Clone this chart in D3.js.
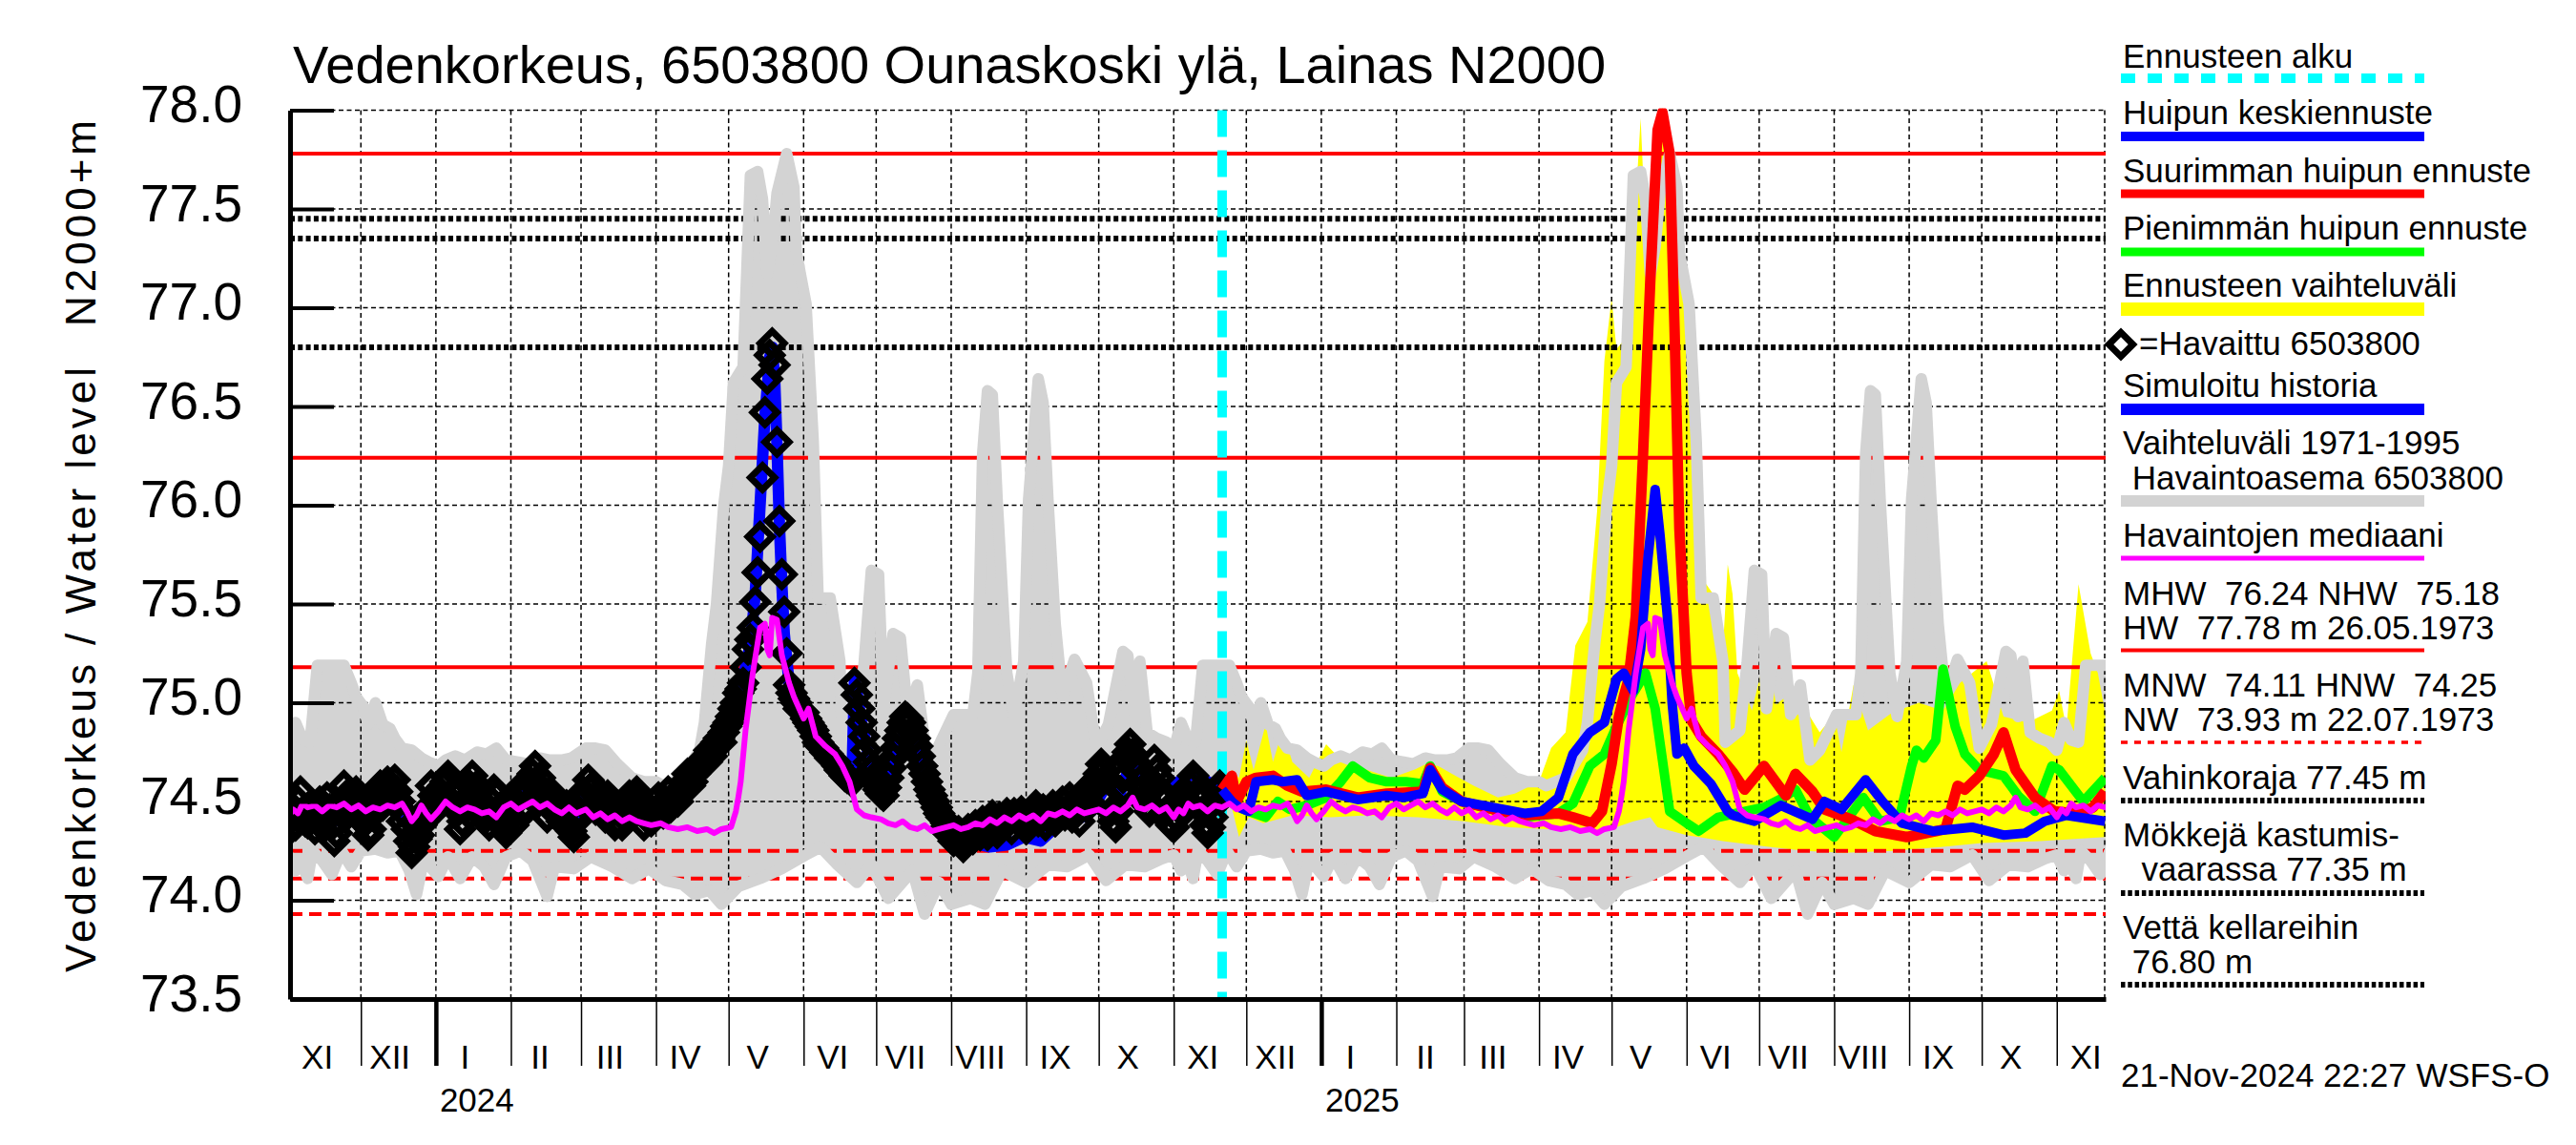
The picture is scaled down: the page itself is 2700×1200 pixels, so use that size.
<!DOCTYPE html>
<html>
<head>
<meta charset="utf-8">
<script src="https://cdn.jsdelivr.net/npm/d3@7"></script>
<style>
  body { margin: 0; background: #fff; }
  svg { display: block; font-family: "Liberation Sans", Arial, Helvetica, sans-serif; }
  text { white-space: pre; }
</style>
</head>
<body>
<svg id="chart" width="2700" height="1200"></svg>
<script>
// ---- data ----

// Vaihteluväli 1971-1995 (day of year, max / min), repeated for every year on the chart
const climMax = [["11-01",74.76],["11-04",74.90],["11-07",74.81],["11-10",74.80],["11-13",75.19],["11-18",75.19],["11-24",75.19],["11-27",75.10],["11-29",75.03],["12-02",74.98],["12-04",74.89],["12-07",75.00],["12-10",74.89],["12-13",74.87],["12-15",74.82],["12-18",74.77],["12-22",74.76],["12-26",74.72],["12-29",74.70],["01-02",74.68],["01-05",74.71],["01-09",74.73],["01-13",74.71],["01-18",74.75],["01-22",74.74],["01-26",74.77],["01-30",74.71],["02-04",74.70],["02-08",74.69],["02-13",74.72],["02-17",74.71],["02-22",74.71],["02-26",74.72],["03-03",74.77],["03-07",74.77],["03-11",74.76],["03-16",74.69],["03-22",74.62],["03-27",74.60],["04-01",74.60],["04-04",74.58],["04-08",74.60],["04-12",74.62],["04-16",74.70],["04-19",74.76],["04-21",74.90],["04-24",75.30],["04-26",75.50],["04-29",76.00],["05-01",76.20],["05-03",76.62],["05-07",76.70],["05-10",77.67],["05-13",77.69],["05-15",77.55],["05-17",77.17],["05-19",77.31],["05-21",77.58],["05-25",77.78],["05-28",77.61],["05-29",77.28],["06-02",77.02],["06-05",76.32],["06-07",75.53],["06-12",75.53],["06-16",75.21],["06-17",74.80],["06-23",74.86],["06-26",75.20],["06-29",75.67],["07-02",75.65],["07-04",74.97],["07-08",75.35],["07-11",75.33],["07-14",74.94],["07-18",75.09],["07-22",74.71],["07-26",74.76],["08-02",74.94],["08-10",74.94],["08-12",75.15],["08-14",76.26],["08-16",76.58],["08-18",76.56],["08-20",76.03],["08-24",75.15],["08-27",74.93],["08-31",75.21],["09-02",76.03],["09-06",76.64],["09-08",76.52],["09-10",76.03],["09-13",75.40],["09-16",75.03],["09-21",75.22],["09-26",75.10],["09-30",74.77],["10-05",74.89],["10-11",75.26],["10-13",75.24],["10-16",74.93],["10-18",75.21],["10-21",74.85],["10-25",74.82],["10-29",74.80]];
const climMin = [["11-01",74.23],["11-04",74.15],["11-06",74.21],["11-09",74.11],["11-11",74.25],["11-15",74.20],["11-19",74.13],["11-23",74.25],["11-27",74.17],["12-01",74.25],["12-07",74.26],["12-12",74.24],["12-17",74.25],["12-21",74.15],["12-24",74.03],["12-27",74.21],["01-02",74.12],["01-06",74.22],["01-11",74.11],["01-16",74.22],["01-21",74.17],["01-25",74.08],["01-30",74.22],["02-05",74.25],["02-10",74.20],["02-16",74.02],["02-19",74.17],["02-27",74.16],["03-05",74.22],["03-14",74.17],["03-22",74.11],["03-29",74.16],["04-05",74.10],["04-12",74.08],["04-17",74.03],["04-23",74.05],["04-28",73.98],["05-05",74.07],["05-14",74.11],["05-23",74.16],["06-02",74.23],["06-08",74.27],["06-15",74.18],["06-23",74.09],["06-29",74.18],["07-06",74.01],["07-16",74.15],["07-21",73.93],["07-27",74.09],["08-01",73.98],["08-09",74.01],["08-15",73.98],["08-22",74.15],["09-01",74.09],["09-10",74.18],["09-18",74.17],["09-27",74.23],["10-04",74.10],["10-12",74.18],["10-20",74.17],["10-27",74.21]];

// Havaintojen mediaani (day of year)
const medianClim = [["11-01",74.42],["11-03",74.46],["11-05",74.44],["11-07",74.49],["11-09",74.47],["11-12",74.48],["11-15",74.45],["11-18",74.48],["11-21",74.47],["11-24",74.49],["11-27",74.46],["11-30",74.48],["12-03",74.45],["12-06",74.47],["12-09",74.46],["12-12",74.48],["12-15",74.47],["12-18",74.49],["12-20",74.45],["12-22",74.40],["12-24",74.43],["12-26",74.48],["12-28",74.44],["12-30",74.41],["01-02",74.45],["01-05",74.50],["01-08",74.47],["01-11",74.45],["01-14",74.47],["01-17",74.46],["01-20",74.44],["01-23",74.45],["01-26",74.42],["01-29",74.47],["02-01",74.49],["02-04",74.46],["02-07",74.48],["02-10",74.50],["02-13",74.47],["02-16",74.49],["02-19",74.46],["02-22",74.44],["02-25",74.47],["02-28",74.44],["03-03",74.46],["03-06",74.42],["03-09",74.44],["03-12",74.41],["03-15",74.43],["03-18",74.40],["03-21",74.42],["03-24",74.40],["03-27",74.39],["03-30",74.38],["04-03",74.39],["04-06",74.37],["04-10",74.36],["04-14",74.37],["04-18",74.35],["04-22",74.36],["04-25",74.34],["04-28",74.36],["05-02",74.37],["05-04",74.45],["05-05",74.52],["05-06",74.60],["05-08",74.86],["05-11",75.15],["05-14",75.38],["05-16",75.40],["05-17",75.27],["05-18",75.24],["05-19",75.43],["05-21",75.42],["05-23",75.24],["05-26",75.10],["05-28",75.03],["06-01",74.92],["06-03",74.97],["06-06",74.83],["06-10",74.78],["06-14",74.74],["06-17",74.68],["06-20",74.60],["06-23",74.46],["06-26",74.43],["06-29",74.42],["07-03",74.41],["07-06",74.39],["07-09",74.38],["07-12",74.40],["07-15",74.37],["07-18",74.36],["07-21",74.38],["07-24",74.35],["07-27",74.36],["07-30",74.37],["08-02",74.38],["08-05",74.36],["08-08",74.37],["08-11",74.39],["08-14",74.38],["08-17",74.41],["08-20",74.39],["08-23",74.42],["08-26",74.40],["08-29",74.43],["09-01",74.41],["09-04",74.43],["09-07",74.40],["09-10",74.44],["09-13",74.43],["09-16",74.45],["09-19",74.43],["09-22",74.46],["09-25",74.44],["09-28",74.45],["10-01",74.46],["10-04",74.44],["10-07",74.47],["10-10",74.45],["10-13",74.48],["10-15",74.52],["10-17",74.47],["10-20",74.46],["10-23",74.48],["10-26",74.45],["10-29",74.47]];

// Havaittu 6503800
const observed = [["2023-11-01",74.35],["2023-11-03",74.42],["2023-11-05",74.50],["2023-11-07",74.45],["2023-11-09",74.39],["2023-11-11",74.44],["2023-11-13",74.40],["2023-11-15",74.47],["2023-11-17",74.52],["2023-11-19",74.38],["2023-11-21",74.34],["2023-11-23",74.45],["2023-11-25",74.53],["2023-11-27",74.48],["2023-11-29",74.55],["2023-12-01",74.46],["2023-12-03",74.40],["2023-12-05",74.36],["2023-12-07",74.50],["2023-12-09",74.58],["2023-12-11",74.52],["2023-12-13",74.56],["2023-12-15",74.61],["2023-12-17",74.50],["2023-12-19",74.44],["2023-12-21",74.30],["2023-12-23",74.27],["2023-12-25",74.33],["2023-12-27",74.40],["2023-12-29",74.47],["2023-12-31",74.53],["2024-01-02",74.50],["2024-01-04",74.58],["2024-01-06",74.63],["2024-01-08",74.55],["2024-01-10",74.45],["2024-01-12",74.40],["2024-01-14",74.52],["2024-01-16",74.63],["2024-01-18",74.58],["2024-01-20",74.48],["2024-01-22",74.42],["2024-01-24",74.50],["2024-01-26",74.53],["2024-01-28",74.40],["2024-01-30",74.34],["2024-02-01",74.42],["2024-02-03",74.50],["2024-02-05",74.53],["2024-02-07",74.48],["2024-02-09",74.60],["2024-02-11",74.68],["2024-02-13",74.62],["2024-02-15",74.52],["2024-02-17",74.47],["2024-02-19",74.53],["2024-02-21",74.50],["2024-02-23",74.44],["2024-02-25",74.38],["2024-02-27",74.32],["2024-02-29",74.45],["2024-03-02",74.55],["2024-03-04",74.61],["2024-03-06",74.58],["2024-03-08",74.50],["2024-03-10",74.47],["2024-03-12",74.53],["2024-03-14",74.45],["2024-03-16",74.40],["2024-03-18",74.38],["2024-03-20",74.45],["2024-03-22",74.50],["2024-03-24",74.55],["2024-03-26",74.48],["2024-03-28",74.42],["2024-03-30",74.40],["2024-04-01",74.45],["2024-04-03",74.48],["2024-04-05",74.50],["2024-04-07",74.47],["2024-04-09",74.53],["2024-04-11",74.56],["2024-04-13",74.60],["2024-04-15",74.58],["2024-04-17",74.64],["2024-04-19",74.68],["2024-04-21",74.72],["2024-04-23",74.76],["2024-04-25",74.78],["2024-04-27",74.82],["2024-04-29",74.85],["2024-05-01",74.90],["2024-05-03",74.97],["2024-05-05",75.05],["2024-05-07",75.10],["2024-05-08",75.18],["2024-05-09",75.27],["2024-05-10",75.32],["2024-05-11",75.38],["2024-05-12",75.51],["2024-05-13",75.66],["2024-05-14",75.84],["2024-05-15",76.14],["2024-05-16",76.47],["2024-05-17",76.64],["2024-05-18",76.76],["2024-05-19",76.82],["2024-05-20",76.71],["2024-05-21",76.32],["2024-05-22",75.92],["2024-05-23",75.65],["2024-05-24",75.46],["2024-05-25",75.25],["2024-05-26",75.09],["2024-05-28",75.02],["2024-05-30",74.97],["2024-06-01",74.95],["2024-06-03",74.90],["2024-06-05",74.86],["2024-06-07",74.80],["2024-06-09",74.77],["2024-06-11",74.74],["2024-06-13",74.71],["2024-06-15",74.68],["2024-06-17",74.65],["2024-06-19",74.62],["2024-06-21",74.60],["2024-06-22",75.10],["2024-06-23",75.04],["2024-06-24",74.97],["2024-06-25",74.90],["2024-06-26",74.83],["2024-06-27",74.76],["2024-06-28",74.70],["2024-06-30",74.62],["2024-07-02",74.56],["2024-07-04",74.53],["2024-07-06",74.62],["2024-07-08",74.72],["2024-07-10",74.82],["2024-07-12",74.90],["2024-07-14",74.92],["2024-07-16",74.86],["2024-07-18",74.78],["2024-07-20",74.68],["2024-07-22",74.60],["2024-07-24",74.53],["2024-07-26",74.47],["2024-07-28",74.42],["2024-07-30",74.39],["2024-08-01",74.36],["2024-08-03",74.33],["2024-08-05",74.30],["2024-08-07",74.32],["2024-08-09",74.35],["2024-08-11",74.38],["2024-08-13",74.33],["2024-08-15",74.36],["2024-08-17",74.40],["2024-08-19",74.37],["2024-08-21",74.42],["2024-08-23",74.38],["2024-08-25",74.40],["2024-08-27",74.44],["2024-08-29",74.40],["2024-08-31",74.38],["2024-09-02",74.43],["2024-09-04",74.45],["2024-09-06",74.40],["2024-09-08",74.46],["2024-09-10",74.42],["2024-09-12",74.48],["2024-09-14",74.44],["2024-09-16",74.50],["2024-09-18",74.46],["2024-09-20",74.42],["2024-09-22",74.48],["2024-09-24",74.52],["2024-09-26",74.47],["2024-09-28",74.55],["2024-09-30",74.60],["2024-10-02",74.69],["2024-10-04",74.62],["2024-10-06",74.45],["2024-10-08",74.37],["2024-10-10",74.55],["2024-10-12",74.72],["2024-10-14",74.79],["2024-10-16",74.70],["2024-10-18",74.60],["2024-10-20",74.52],["2024-10-22",74.45],["2024-10-24",74.71],["2024-10-26",74.62],["2024-10-28",74.50],["2024-10-30",74.40],["2024-11-01",74.37],["2024-11-03",74.48],["2024-11-05",74.55],["2024-11-07",74.50],["2024-11-09",74.63],["2024-11-11",74.55],["2024-11-13",74.45],["2024-11-15",74.34],["2024-11-17",74.42],["2024-11-19",74.55],["2024-11-21",74.52],
  ["2023-11-02",74.47],["2023-11-04",74.38],["2023-11-06",74.55],["2023-11-08",74.40],["2023-11-10",74.48],["2023-11-12",74.36],["2023-11-14",74.50],["2023-11-16",74.42],["2023-11-18",74.46],["2023-11-20",74.30],["2023-11-22",74.40],["2023-11-24",74.58],["2023-11-26",74.44],["2023-11-28",74.52],["2023-11-30",74.42],["2023-12-02",74.50],["2023-12-04",74.33],["2023-12-06",74.44],["2023-12-08",74.55],["2023-12-10",74.48],["2023-12-12",74.60],["2023-12-14",74.52],["2023-12-16",74.55],["2023-12-18",74.40],["2023-12-20",74.36],["2023-12-22",74.24],["2023-12-24",74.31],["2023-12-26",74.38],["2023-12-28",74.44],["2023-12-30",74.58],["2024-01-01",74.46],["2024-01-03",74.54],["2024-01-05",74.60],["2024-01-07",74.50],["2024-01-09",74.48],["2024-01-11",74.36],["2024-01-13",74.46],["2024-01-15",74.58],["2024-01-17",74.52],["2024-01-19",74.55],["2024-01-21",74.44],["2024-01-23",74.38],["2024-01-25",74.56],["2024-01-27",74.46],["2024-01-29",74.37],["2024-01-31",74.46],["2024-02-02",74.38],["2024-02-04",74.56],["2024-02-06",74.44],["2024-02-08",74.55],["2024-02-10",74.64],["2024-02-12",74.58],["2024-02-14",74.56],["2024-02-16",74.42],["2024-02-18",74.50],["2024-02-20",74.46],["2024-02-22",74.40],["2024-02-24",74.48],["2024-02-26",74.35],["2024-02-28",74.40],["2024-03-01",74.50],["2024-03-03",74.52],["2024-03-05",74.56],["2024-03-07",74.46],["2024-03-09",74.52],["2024-03-11",74.42],["2024-03-13",74.50],["2024-03-15",74.38],["2024-03-17",74.44],["2024-03-19",74.42],["2024-03-21",74.53],["2024-03-23",74.47],["2024-03-25",74.52],["2024-03-27",74.38],["2024-03-29",74.46],["2024-03-31",74.42],["2024-04-02",74.52],["2024-04-04",74.44],["2024-04-06",74.55],["2024-04-08",74.50],["2024-04-10",74.50],["2024-04-12",74.55],["2024-04-14",74.64],["2024-04-16",74.60],["2024-04-18",74.66],["2024-04-20",74.70],["2024-04-22",74.70],["2024-04-24",74.73],["2024-04-26",74.80],["2024-04-28",74.80],["2024-04-30",74.88],["2024-05-02",74.93],["2024-05-04",75.00],["2024-05-06",75.07],["2024-05-27",75.05],["2024-05-29",75.00],["2024-05-31",74.96],["2024-06-02",74.92],["2024-06-04",74.88],["2024-06-06",74.83],["2024-06-08",74.78],["2024-06-10",74.75],["2024-06-12",74.72],["2024-06-14",74.70],["2024-06-16",74.66],["2024-06-18",74.63],["2024-06-29",74.66],["2024-07-01",74.59],["2024-07-03",74.54],["2024-07-05",74.57],["2024-07-07",74.67],["2024-07-09",74.77],["2024-07-11",74.86],["2024-07-13",74.93],["2024-07-15",74.90],["2024-07-17",74.82],["2024-07-19",74.73],["2024-07-21",74.64],["2024-07-23",74.56],["2024-07-25",74.50],["2024-07-27",74.44],["2024-07-29",74.36],["2024-07-31",74.34],["2024-08-02",74.30],["2024-08-04",74.35],["2024-08-06",74.27],["2024-08-08",74.36],["2024-08-10",74.31],["2024-08-12",74.34],["2024-08-14",74.40],["2024-08-16",74.33],["2024-08-18",74.43],["2024-08-20",74.34],["2024-08-22",74.38],["2024-08-24",74.44],["2024-08-26",74.36],["2024-08-28",74.42],["2024-08-30",74.45],["2024-09-01",74.36],["2024-09-03",74.40],["2024-09-05",74.48],["2024-09-07",74.43],["2024-09-09",74.38],["2024-09-11",74.45],["2024-09-13",74.40],["2024-09-15",74.46],["2024-09-17",74.43],["2024-09-19",74.52],["2024-09-21",74.45],["2024-09-23",74.40],["2024-09-25",74.55],["2024-09-27",74.50],["2024-09-29",74.57],["2024-10-01",74.64],["2024-10-03",74.66],["2024-10-05",74.52],["2024-10-07",74.40],["2024-10-09",74.45],["2024-10-11",74.62],["2024-10-13",74.75],["2024-10-15",74.74],["2024-10-17",74.65],["2024-10-19",74.56],["2024-10-21",74.48],["2024-10-23",74.60],["2024-10-25",74.66],["2024-10-27",74.55],["2024-10-29",74.45],["2024-10-31",74.38],["2024-11-02",74.42],["2024-11-04",74.52],["2024-11-06",74.46],["2024-11-08",74.58],["2024-11-10",74.60],["2024-11-12",74.50],["2024-11-14",74.38],["2024-11-16",74.37],["2024-11-18",74.50],["2024-11-20",74.58]];

// Simuloitu historia
const simulated = [["2023-11-01",74.40],["2023-11-05",74.47],["2023-11-10",74.43],["2023-11-15",74.46],["2023-11-20",74.40],["2023-11-25",74.48],["2023-11-30",74.50],["2023-12-05",74.42],["2023-12-10",74.52],["2023-12-15",74.55],["2023-12-20",74.40],["2023-12-25",74.35],["2023-12-31",74.48],["2024-01-05",74.56],["2024-01-10",74.47],["2024-01-15",74.55],["2024-01-20",74.50],["2024-01-25",74.48],["2024-01-30",74.40],["2024-02-05",74.50],["2024-02-10",74.60],["2024-02-15",74.55],["2024-02-20",74.50],["2024-02-27",74.38],["2024-03-03",74.55],["2024-03-10",74.50],["2024-03-17",74.42],["2024-03-24",74.50],["2024-03-31",74.43],["2024-04-07",74.48],["2024-04-14",74.57],["2024-04-21",74.70],["2024-04-28",74.82],["2024-05-03",74.97],["2024-05-07",75.12],["2024-05-10",75.30],["2024-05-12",75.55],["2024-05-14",76.00],["2024-05-16",76.45],["2024-05-18",76.75],["2024-05-19",76.80],["2024-05-20",76.65],["2024-05-21",76.30],["2024-05-22",75.90],["2024-05-23",75.60],["2024-05-24",75.35],["2024-05-26",75.10],["2024-05-30",74.97],["2024-06-05",74.86],["2024-06-12",74.73],["2024-06-19",74.62],["2024-06-21",74.62],["2024-06-22",75.12],["2024-06-23",75.06],["2024-06-25",74.90],["2024-06-28",74.72],["2024-07-01",74.60],["2024-07-05",74.55],["2024-07-10",74.78],["2024-07-14",74.88],["2024-07-18",74.75],["2024-07-22",74.58],["2024-07-28",74.42],["2024-08-03",74.33],["2024-08-10",74.29],["2024-08-17",74.27],["2024-08-24",74.28],["2024-08-31",74.32],["2024-09-07",74.30],["2024-09-14",74.38],["2024-09-21",74.40],["2024-09-28",74.45],["2024-10-04",74.58],["2024-10-10",74.55],["2024-10-15",74.72],["2024-10-22",74.55],["2024-10-28",74.58],["2024-11-03",74.60],["2024-11-09",74.64],["2024-11-15",74.60],["2024-11-21",74.56]];

// Ennusteen vaihteluväli (upper / lower)
const forecastMax = [["2024-11-21",74.56],["2024-11-25",74.66],["2024-11-28",74.62],["2024-12-01",74.81],["2024-12-04",74.66],["2024-12-09",74.89],["2024-12-12",74.70],["2024-12-16",74.86],["2024-12-20",74.70],["2024-12-27",74.62],["2025-01-03",74.79],["2025-01-10",74.70],["2025-01-20",74.66],["2025-01-30",74.62],["2025-02-08",74.66],["2025-02-14",74.71],["2025-02-24",74.64],["2025-03-05",74.58],["2025-03-15",74.52],["2025-03-22",74.54],["2025-04-01",74.60],["2025-04-06",74.77],["2025-04-12",74.85],["2025-04-16",75.29],["2025-04-21",75.41],["2025-04-25",75.97],["2025-04-28",76.73],["2025-05-01",77.05],["2025-05-03",76.79],["2025-05-07",76.85],["2025-05-10",77.34],["2025-05-13",77.96],["2025-05-15",77.40],["2025-05-19",77.64],["2025-05-22",78.02],["2025-05-25",77.85],["2025-05-29",77.49],["2025-06-01",76.96],["2025-06-04",76.08],["2025-06-08",75.62],["2025-06-12",75.55],["2025-06-16",75.27],["2025-06-18",75.70],["2025-06-20",75.55],["2025-06-22",75.15],["2025-06-28",74.96],["2025-07-04",75.27],["2025-07-08",74.99],["2025-07-12",75.03],["2025-07-16",74.93],["2025-07-20",74.97],["2025-07-26",74.85],["2025-08-01",74.94],["2025-08-04",74.75],["2025-08-09",75.09],["2025-08-15",74.86],["2025-08-25",74.95],["2025-09-05",75.00],["2025-09-15",74.96],["2025-09-22",75.10],["2025-10-03",75.21],["2025-10-10",74.93],["2025-10-20",74.90],["2025-10-30",74.96],["2025-11-02",75.06],["2025-11-05",74.87],["2025-11-10",75.60],["2025-11-15",75.25],["2025-11-18",75.15],["2025-11-21",74.95]];
const forecastMin = [["2024-11-21",74.55],["2024-11-25",74.47],["2024-11-28",74.32],["2024-12-02",74.42],["2024-12-08",74.39],["2024-12-20",74.43],["2025-01-05",74.42],["2025-01-20",74.43],["2025-02-10",74.42],["2025-03-01",74.40],["2025-03-20",74.37],["2025-04-05",74.36],["2025-04-20",74.36],["2025-04-26",74.34],["2025-05-10",74.40],["2025-05-17",74.42],["2025-05-20",74.37],["2025-06-01",74.33],["2025-06-16",74.30],["2025-07-05",74.27],["2025-07-20",74.25],["2025-08-05",74.24],["2025-08-25",74.25],["2025-09-15",74.27],["2025-10-01",74.29],["2025-10-25",74.30],["2025-11-21",74.32]];

// Huipun keskiennuste / Suurimman / Pienimmän huipun ennuste
const forecastMean = [["2024-11-21",74.56],["2024-11-25",74.50],["2024-11-28",74.47],["2024-12-02",74.45],["2024-12-05",74.60],["2024-12-12",74.61],["2024-12-16",74.60],["2024-12-22",74.61],["2024-12-26",74.53],["2025-01-03",74.55],["2025-01-16",74.51],["2025-01-28",74.53],["2025-02-04",74.52],["2025-02-12",74.54],["2025-02-15",74.66],["2025-02-20",74.56],["2025-02-28",74.50],["2025-03-13",74.47],["2025-03-26",74.44],["2025-04-02",74.45],["2025-04-09",74.52],["2025-04-15",74.74],["2025-04-22",74.85],["2025-04-28",74.90],["2025-05-03",75.12],["2025-05-06",75.15],["2025-05-10",75.06],["2025-05-13",75.27],["2025-05-16",75.73],["2025-05-19",76.08],["2025-05-21",75.85],["2025-05-24",75.44],["2025-05-26",75.00],["2025-05-28",74.74],["2025-05-31",74.77],["2025-06-04",74.68],["2025-06-11",74.59],["2025-06-18",74.45],["2025-06-20",74.43],["2025-06-29",74.40],["2025-07-10",74.48],["2025-07-23",74.41],["2025-07-28",74.50],["2025-08-04",74.46],["2025-08-14",74.61],["2025-08-21",74.50],["2025-08-29",74.39],["2025-09-11",74.35],["2025-09-27",74.37],["2025-10-10",74.33],["2025-10-19",74.34],["2025-10-27",74.40],["2025-11-05",74.43],["2025-11-21",74.40]];
const forecastHigh = [["2024-11-21",74.56],["2024-11-25",74.63],["2024-11-27",74.50],["2024-12-01",74.60],["2024-12-05",74.62],["2024-12-12",74.63],["2024-12-18",74.58],["2024-12-24",74.55],["2025-01-03",74.56],["2025-01-16",74.52],["2025-01-28",74.54],["2025-02-12",74.55],["2025-02-15",74.67],["2025-02-20",74.57],["2025-02-28",74.50],["2025-03-13",74.46],["2025-03-26",74.43],["2025-04-09",74.44],["2025-04-15",74.42],["2025-04-23",74.39],["2025-04-27",74.45],["2025-05-01",74.69],["2025-05-04",74.93],["2025-05-06",75.03],["2025-05-08",75.12],["2025-05-11",75.44],["2025-05-14",76.26],["2025-05-17",77.14],["2025-05-20",77.90],["2025-05-22",77.99],["2025-05-25",77.78],["2025-05-27",76.90],["2025-05-29",75.88],["2025-06-01",75.15],["2025-06-03",74.91],["2025-06-07",74.83],["2025-06-14",74.74],["2025-06-20",74.65],["2025-06-25",74.56],["2025-07-03",74.68],["2025-07-12",74.53],["2025-07-16",74.64],["2025-07-23",74.55],["2025-07-28",74.46],["2025-08-08",74.41],["2025-08-18",74.35],["2025-08-31",74.32],["2025-09-16",74.36],["2025-09-21",74.58],["2025-09-24",74.56],["2025-09-30",74.63],["2025-10-06",74.74],["2025-10-10",74.85],["2025-10-15",74.66],["2025-10-23",74.52],["2025-10-31",74.45],["2025-11-09",74.44],["2025-11-16",74.47],["2025-11-21",74.55]];
const forecastLow = [["2024-11-21",74.56],["2024-11-25",74.52],["2024-11-28",74.47],["2024-12-02",74.45],["2024-12-09",74.42],["2024-12-14",74.50],["2024-12-19",74.46],["2024-12-26",74.48],["2025-01-03",74.52],["2025-01-09",74.60],["2025-01-14",74.68],["2025-01-21",74.62],["2025-01-28",74.60],["2025-02-05",74.60],["2025-02-12",74.59],["2025-02-15",74.68],["2025-02-20",74.55],["2025-02-28",74.50],["2025-03-13",74.46],["2025-03-26",74.42],["2025-04-09",74.44],["2025-04-15",74.49],["2025-04-22",74.68],["2025-04-28",74.74],["2025-05-03",74.88],["2025-05-09",75.03],["2025-05-15",75.15],["2025-05-19",74.97],["2025-05-22",74.71],["2025-05-25",74.45],["2025-06-01",74.39],["2025-06-06",74.35],["2025-06-14",74.42],["2025-06-25",74.45],["2025-07-03",74.47],["2025-07-11",74.52],["2025-07-16",74.56],["2025-07-22",74.42],["2025-08-01",74.32],["2025-08-13",74.52],["2025-08-20",74.40],["2025-08-28",74.42],["2025-09-02",74.68],["2025-09-04",74.76],["2025-09-07",74.72],["2025-09-12",74.81],["2025-09-15",75.17],["2025-09-20",74.88],["2025-09-24",74.74],["2025-09-30",74.66],["2025-10-10",74.63],["2025-10-16",74.53],["2025-10-23",74.45],["2025-10-30",74.68],["2025-11-02",74.66],["2025-11-12",74.50],["2025-11-21",74.62]];

// reference levels
const levelsSolid = [77.78, 76.24, 75.18];   // HW, MHW, NHW
const levelsDashed = [74.25, 74.11, 73.93];  // HNW, MNW, NW
const levelsDotted = [77.45, 77.35, 76.80];  // Vahinkoraja, Mökkejä, Vettä kellareihin
const forecastStart = "2024-11-21";

const yTicks = [73.5, 74.0, 74.5, 75.0, 75.5, 76.0, 76.5, 77.0, 77.5, 78.0];
const romanMonths = ['I', 'II', 'III', 'IV', 'V', 'VI', 'VII', 'VIII', 'IX', 'X', 'XI', 'XII'];
const yearLabels = [2024, 2025];

// ---- setup ----
const width = 2700, height = 1200;
const plot = { left: 304, right: 2207, top: 115.5, bottom: 1047 };

const x = d3.scaleTime()
  .domain([new Date(2023, 10, 1, 17), new Date(2025, 10, 21, 5)])
  .range([plot.left, plot.right]);
const y = d3.scaleLinear().domain([73.5, 78]).range([plot.bottom, plot.top]);

const parse = d3.timeParse('%Y-%m-%d');
const toPts = (arr) => arr.map(([d, v]) => [parse(d), v]);

// day-of-year table -> dated points for every season on the chart
function repeatYears(arr) {
  const out = [];
  [2023, 2024, 2025].forEach((base) => {
    arr.forEach(([md, v]) => {
      const [m, d] = md.split('-').map(Number);
      const yr = m >= 11 ? base : base + 1;
      out.push([new Date(yr, m - 1, d), v]);
    });
  });
  const lo = d3.timeDay.offset(x.domain()[0], -20);
  const hi = d3.timeDay.offset(x.domain()[1], 20);
  return out.filter((p) => p[0] >= lo && p[0] <= hi).sort((a, b) => a[0] - b[0]);
}

const line = d3.line().x((d) => x(d[0])).y((d) => y(d[1]));
const bandPath = (upper, lower) => line(upper.concat(lower.slice().reverse())) + 'Z';

const svg = d3.select('#chart');
svg.append('rect').attr('width', width).attr('height', height).attr('fill', '#fff');

svg.append('defs').append('clipPath').attr('id', 'clip')
  .append('rect')
  .attr('x', plot.left).attr('y', plot.top - 2)
  .attr('width', plot.right - plot.left).attr('height', plot.bottom - plot.top + 2);

const g = svg.append('g').attr('clip-path', 'url(#clip)');

const grayMax = repeatYears(climMax);
const grayMin = repeatYears(climMin);

// gray historical range
g.append('path').attr('d', bandPath(grayMax, grayMin)).attr('fill', '#d3d3d3');

// yellow forecast range
g.append('path').attr('d', bandPath(toPts(forecastMax), toPts(forecastMin))).attr('fill', '#ffff00');

// grid
g.selectAll('.hgrid').data(yTicks).enter().append('line')
  .attr('x1', plot.left).attr('x2', plot.right)
  .attr('y1', (d) => y(d)).attr('y2', (d) => y(d))
  .attr('stroke', '#000').attr('stroke-width', 1.5).attr('stroke-dasharray', '5,3.5');

const monthStarts = d3.timeMonth.range(new Date(2023, 11, 1), new Date(2025, 10, 2));
g.selectAll('.vgrid').data(monthStarts.concat([x.domain()[1]])).enter().append('line')
  .attr('x1', (d) => Math.min(x(d), plot.right - 1)).attr('x2', (d) => Math.min(x(d), plot.right - 1))
  .attr('y1', plot.top).attr('y2', plot.bottom)
  .attr('stroke', '#000').attr('stroke-width', 1.5).attr('stroke-dasharray', '5,3.5');

// reference level lines
g.selectAll('.lsolid').data(levelsSolid).enter().append('line')
  .attr('x1', plot.left).attr('x2', plot.right)
  .attr('y1', (d) => y(d)).attr('y2', (d) => y(d))
  .attr('stroke', '#ff0000').attr('stroke-width', 4);
g.selectAll('.ldash').data(levelsDashed).enter().append('line')
  .attr('x1', plot.left).attr('x2', plot.right)
  .attr('y1', (d) => y(d)).attr('y2', (d) => y(d))
  .attr('stroke', '#ff0000').attr('stroke-width', 4).attr('stroke-dasharray', '13,7');
g.selectAll('.ldot').data(levelsDotted).enter().append('line')
  .attr('x1', plot.left).attr('x2', plot.right)
  .attr('y1', (d) => y(d)).attr('y2', (d) => y(d))
  .attr('stroke', '#000').attr('stroke-width', 6).attr('stroke-dasharray', '5,3.3');

// gray range outlines
[grayMax, grayMin].forEach((pts) => {
  g.append('path').attr('d', line(pts))
    .attr('fill', 'none').attr('stroke', '#d3d3d3').attr('stroke-width', 12)
    .attr('stroke-linejoin', 'round');
});

// forecast start
g.append('line')
  .attr('x1', x(parse(forecastStart))).attr('x2', x(parse(forecastStart)))
  .attr('y1', plot.top).attr('y2', plot.bottom)
  .attr('stroke', '#00ffff').attr('stroke-width', 10).attr('stroke-dasharray', '28,14');

// simulated history
g.append('path').attr('d', line(toPts(simulated)))
  .attr('fill', 'none').attr('stroke', '#0000ff').attr('stroke-width', 12).attr('stroke-linejoin', 'round');

// observations as hollow diamonds
const diamond = d3.symbol().type(d3.symbolSquare).size(320);
g.selectAll('.obs').data(toPts(observed)).enter().append('path')
  .attr('d', diamond)
  .attr('transform', (d) => `translate(${x(d[0])},${y(d[1])}) rotate(45)`)
  .attr('fill', 'none').attr('stroke', '#000').attr('stroke-width', 7);

// forecast lines
[[forecastLow, '#00ff00', 10], [forecastHigh, '#ff0000', 11], [forecastMean, '#0000ff', 10]].forEach(([arr, color, w]) => {
  g.append('path').attr('d', line(toPts(arr)))
    .attr('fill', 'none').attr('stroke', color).attr('stroke-width', w).attr('stroke-linejoin', 'round');
});

// median
g.append('path').attr('d', line(repeatYears(medianClim)))
  .attr('fill', 'none').attr('stroke', '#ff00ff').attr('stroke-width', 6).attr('stroke-linejoin', 'round');

// ---- axes ----
const yAxis = svg.append('g')
  .attr('transform', `translate(${plot.left},0)`)
  .call(d3.axisLeft(y).tickValues(yTicks).tickFormat(d3.format('.1f')).tickSize(-46).tickSizeOuter(0).tickPadding(50));
yAxis.select('.domain').attr('stroke-width', 5);
yAxis.selectAll('.tick line').attr('stroke-width', 4);
yAxis.selectAll('.tick text')
  .attr('dy', '0.22em')
  .style('font-size', '55px')
  .style('font-family', '"Liberation Sans", Arial, sans-serif');

const xAxis = svg.append('g')
  .attr('transform', `translate(0,${plot.bottom})`)
  .call(d3.axisBottom(x).tickValues(monthStarts).tickSize(70).tickSizeOuter(0).tickFormat(''));
xAxis.select('.domain').attr('stroke-width', 5);
xAxis.selectAll('.tick line')
  .attr('stroke-width', (d) => (d.getMonth() === 0 ? 4.5 : 1.5));

// month labels
const labelMonths = d3.timeMonth.range(new Date(2023, 10, 1), new Date(2025, 10, 2));
svg.selectAll('.mlabel').data(labelMonths).enter().append('text')
  .attr('x', (d) => x(d3.timeDay.offset(d, 12)))
  .attr('y', 1120)
  .attr('text-anchor', 'middle')
  .style('font-size', '35px')
  .text((d) => romanMonths[d.getMonth()]);

svg.selectAll('.ylabel').data(yearLabels).enter().append('text')
  .attr('x', (d) => x(new Date(d, 0, 1)) + 4)
  .attr('y', 1165)
  .style('font-size', '35px')
  .text((d) => d);

// titles
svg.append('text')
  .attr('x', 307).attr('y', 87)
  .style('font-size', '56px')
  .text('Vedenkorkeus, 6503800 Ounaskoski ylä, Lainas N2000');

svg.append('text')
  .attr('transform', 'translate(100,700) rotate(-90)')
  .attr('text-anchor', 'middle')
  .style('font-size', '44px').style('letter-spacing', '4px')
  .text('Vedenkorkeus / Water level');
svg.append('text')
  .attr('transform', 'translate(100,232) rotate(-90)')
  .attr('text-anchor', 'middle')
  .style('font-size', '44px').style('letter-spacing', '4px')
  .text('N2000+m');

// ---- legend ----
const lg = svg.append('g');
const lx0 = 2223, lx1 = 2541;
function legendLine(yy, color, w, dash) {
  const l = lg.append('line').attr('x1', lx0).attr('x2', lx1).attr('y1', yy).attr('y2', yy)
    .attr('stroke', color).attr('stroke-width', w);
  if (dash) l.attr('stroke-dasharray', dash);
}
function legendText(xx, yy, str) {
  lg.append('text').attr('x', xx).attr('y', yy).style('font-size', '35px').text(str);
}

legendText(2225, 71, 'Ennusteen alku');
legendLine(82, '#00ffff', 10, '15,13');
legendText(2225, 130, 'Huipun keskiennuste');
legendLine(143, '#0000ff', 10);
legendText(2225, 191, 'Suurimman huipun ennuste');
legendLine(203, '#ff0000', 9);
legendText(2225, 251, 'Pienimmän huipun ennuste');
legendLine(264, '#00ff00', 9);
legendText(2225, 311, 'Ennusteen vaihteluväli');
legendLine(324, '#ffff00', 14);
lg.append('path').attr('d', diamond)
  .attr('transform', 'translate(2223,361) rotate(45)')
  .attr('fill', 'none').attr('stroke', '#000').attr('stroke-width', 7);
legendText(2242, 372, '=Havaittu 6503800');
legendText(2225, 416, 'Simuloitu historia');
legendLine(429, '#0000ff', 12);
legendText(2225, 476, 'Vaihteluväli 1971-1995');
legendText(2225, 513, ' Havaintoasema 6503800');
legendLine(525, '#d3d3d3', 12);
legendText(2225, 573, 'Havaintojen mediaani');
legendLine(585, '#ff00ff', 5);
legendText(2225, 634, 'MHW  76.24 NHW  75.18');
legendText(2225, 670, 'HW  77.78 m 26.05.1973');
legendLine(681.5, '#ff0000', 4);
legendText(2225, 730, 'MNW  74.11 HNW  74.25');
legendText(2225, 766, 'NW  73.93 m 22.07.1973');
legendLine(778, '#ff0000', 3.5, '7,7');
legendText(2225, 827, 'Vahinkoraja 77.45 m');
legendLine(839, '#000', 6, '4.5,2.8');
legendText(2225, 887, 'Mökkejä kastumis-');
legendText(2225, 923, '  vaarassa 77.35 m');
legendLine(936, '#000', 6, '4.5,2.8');
legendText(2225, 984, 'Vettä kellareihin');
legendText(2225, 1020, ' 76.80 m');
legendLine(1032, '#000', 6, '4.5,2.8');
legendText(2223, 1139, '21-Nov-2024 22:27 WSFS-O');
</script>
</body>
</html>
